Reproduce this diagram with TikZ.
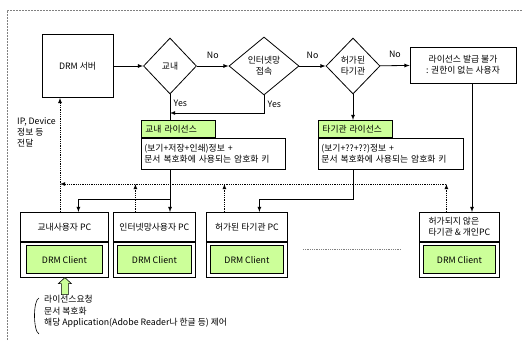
\documentclass[tikz,border=0pt]{standalone}
\usepackage{fontspec}
\setmainfont{Noto Sans CJK KR}
\usetikzlibrary{shapes.geometric,calc}
\definecolor{lgreen}{RGB}{204,255,153}

\begin{document}
\begin{tikzpicture}[x=1pt,y=-1pt,font=\fontsize{8.8}{11}\selectfont]
		\tikzset{box/.style={draw,rectangle,inner sep=2pt,line width=0.8pt}};
		\tikzset{dia/.style={draw,diamond,inner sep=0pt,line width=0.8pt,align=center}};
		\tikzset{tab/.style={draw,fill=lgreen,anchor=north west,line width=0.8pt,minimum height=17pt,text width=66pt,inner sep=4pt,align=left}};
		\tikzset{licbox/.style={box,anchor=north west,minimum height=31pt,inner sep=3pt,align=left}};
		\tikzset{pchead/.style={box,anchor=north west,minimum height=29pt}};
		\tikzset{pcbody/.style={box,anchor=north west,minimum height=35pt}};
		\tikzset{client/.style={draw,fill=lgreen,line width=0.8pt,minimum height=28pt}};
		\tikzset{line/.style={line width=0.8pt},arr/.style={line,-latex}};
		\tikzset{darr/.style={densely dotted,line width=0.8pt,-latex},fb/.style={densely dotted,line width=0.8pt,gray}};
		\tikzset{frame/.style={gray,dash pattern=on 2pt off 1pt,line width=0.6pt}};
		
		\useasboundingbox (0,0) rectangle (526,340);
		\draw[frame] (7,340) -- (7,10) -- (522,10);
		
		% top row
		\node[box,minimum width=71pt,minimum height=63pt] (server) at (77.5,66) {DRM 서버};
		\node[dia,minimum width=53pt,minimum height=56pt] (gyonae) at (170,66) {교내};
		\node[dia,minimum width=70pt,minimum height=58pt] (inet) at (264,66) {인터넷망\\접속};
		\node[dia,minimum width=54pt,minimum height=56pt] (heoga) at (353,66) {허가된\\타기관};
		\node[box,minimum width=106pt,minimum height=36pt,align=center] (reject) at (463,65) {라이선스 발급 불가\\: 권한이 없는 사용자};
		
		% licences
		\node[tab] (tab1) at (141,120) {교내 라이선스};
		\node[licbox,text width=138pt] (lic1) at (tab1.south west) {(보기+저장+인쇄)정보 +\\문서 복호화에 사용되는 암호화 키};
		\node[tab] (tab2) at (318,120) {타기관 라이선스};
		\node[licbox,text width=139pt] (lic2) at (tab2.south west) {(보기+??+??)정보 +\\문서 복호화에 사용되는 암호화 키};
		
		% PCs
		\node[pchead,minimum width=88pt] (pc1) at (20,212) {교내사용자 PC};
		\node[pcbody,minimum width=88pt] (pc1b) at (pc1.south west) {};
		\node[client,minimum width=76pt] (cl1) at (pc1b.center) {DRM Client};
		\node[pchead,minimum width=82pt] (pc2) at (113,212) {인터넷망사용자 PC};
		\node[pcbody,minimum width=82pt] (pc2b) at (pc2.south west) {};
		\node[client,minimum width=74pt] (cl2) at (pc2b.center) {DRM Client};
		\node[pchead,minimum width=81pt] (pc3) at (206,212) {허가된 타기관 PC};
		\node[pcbody,minimum width=81pt] (pc3b) at (pc3.south west) {};
		\node[client,minimum width=73pt] (cl3) at (pc3b.center) {DRM Client};
		\node[pchead,minimum width=80pt,align=left] (pc4) at (419,212) {허가되지 않은\\타기관 \& 개인PC};
		\node[pcbody,minimum width=80pt] (pc4b) at (pc4.south west) {};
		\node[client,minimum width=72pt] (cl4) at (pc4b.center) {DRM Client};
		
		% decisions
		\draw[arr] (server) -- (gyonae);
		\draw[arr] (gyonae) -- node[above=4pt]{No} (inet);
		\draw[arr] (inet) -- node[above=4pt]{No} (heoga);
		\draw[arr] (heoga) -- node[above=4pt]{No} (reject);
		\draw[line] (gyonae.south) -- node[right,pos=0.35]{Yes} (gyonae.south |- tab1.north);
		\coordinate (yes2) at (170,113);
		\draw[arr] (inet.south) |- node[right,pos=0.25]{Yes} (yes2);
		\draw[arr] (heoga.south) -- (heoga.south |- tab2.north);
		\coordinate (rj) at ([xshift=9pt]reject.south);
		\draw[arr] (rj) -- (rj |- pc4.north);
		
		% licence to PCs
		\coordinate (sp1) at (170,199);
		\coordinate (sp2) at (353,199);
		\draw[arr] (lic1.south -| gyonae) -- (gyonae |- pc2.north);
		\draw[arr] (sp1) -| ([xshift=14pt]pc1.north);
		\draw[arr] (lic2.south -| heoga) -- (sp2) -| ([xshift=12.5pt]pc3.north);
		
		% feedback to server
		\coordinate (fbL) at (60,184);
		\coordinate (fbR) at (446,184);
		\draw[darr] (pc1.north -| fbL) -- (server.south -| fbL);
		\draw[darr] (fbR) -- (fbL);
		\foreach \p/\s in {pc2/-19,pc3/-22.5,pc4/-13}
		{
			\coordinate (u) at ([xshift=\s pt]\p.north);
			\draw[darr] (u) -- (u |- fbL);
		}
		\node[anchor=west,align=left,inner sep=0pt] (iplabel) at (17,132) {IP, Device\\정보 등\\전달};
		\draw[fb] (303,249) -- (401,249);
		
		% client note
		\begin{scope}[shift={(pc1b.south)}]
			\draw[fill=lgreen,line width=0.6pt] (0.5,0) -- (7,6) -- (4,6) -- (4,17) -- (-3,17) -- (-3,6) -- (-6,6) -- cycle;
		\end{scope}
		\draw[line width=0.6pt] (39,298) .. controls (33,300) and (33,331) .. (39,334);
		\node[anchor=north west,align=left,inner sep=0pt,font=\fontsize{8.8}{11.5}\selectfont] (note) at (44,295) {라이선스요청\\문서 복호화\\해당 Application(Adobe Reader나 한글 등) 제어};
\end{tikzpicture}
\end{document}
